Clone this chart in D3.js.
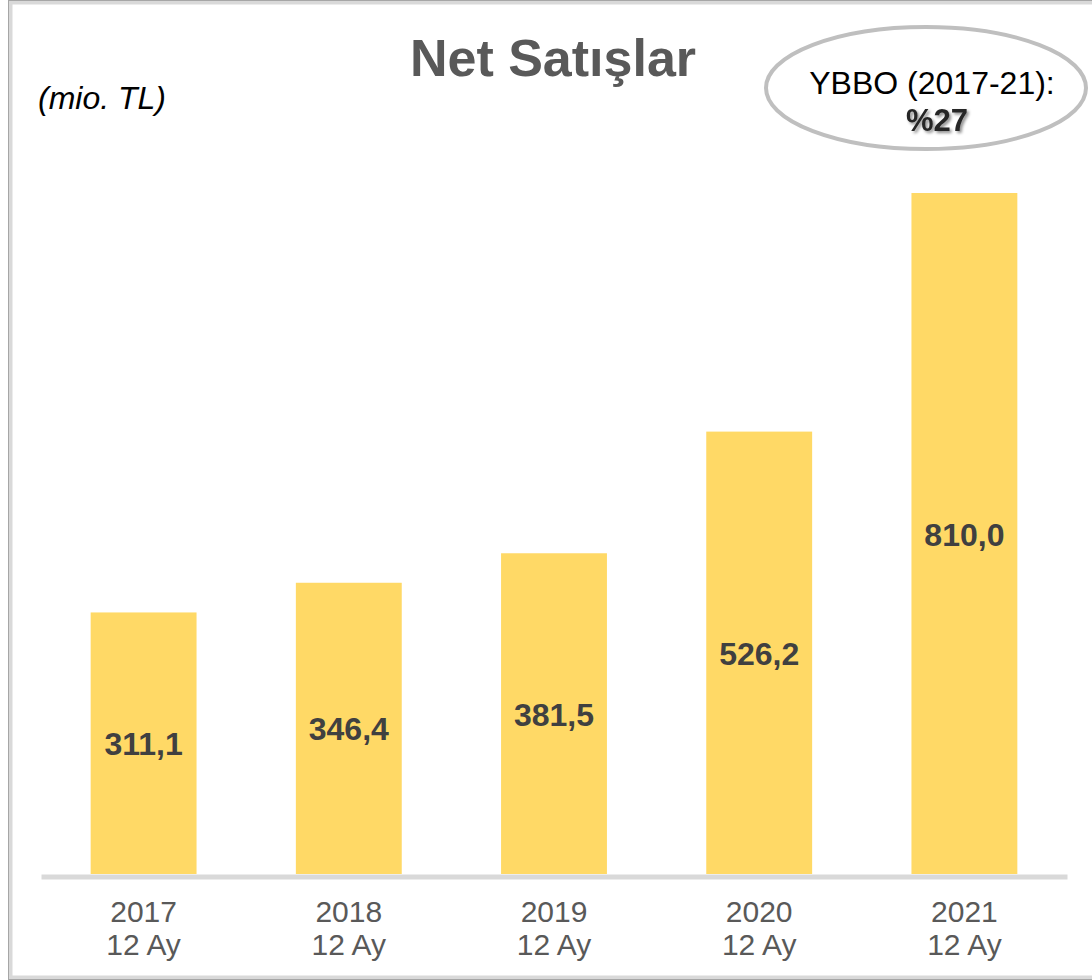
<!DOCTYPE html>
<html lang="tr">
<head>
    <meta charset="UTF-8">
    <title>Net Satışlar</title>
    <script src="https://cdnjs.cloudflare.com/ajax/libs/d3/7.8.5/d3.min.js"></script>
    <style>
        body { margin: 0; background: #fff; }
        svg { display: block; font-family: "Liberation Sans", Arial, sans-serif; }
    </style>
</head>
<body>
<div id="draw-here"></div>
<script>
/* global d3 */

// chart data
var years = ["2017", "2018", "2019", "2020", "2021"];
var periods = ["12 Ay", "12 Ay", "12 Ay", "12 Ay", "12 Ay"];
var sales = [311.1, 346.4, 381.5, 526.2, 810.0];
var salesLabels = ["311,1", "346,4", "381,5", "526,2", "810,0"];

// size of picture
var w = 1092;
var h = 980;

var svg = d3.select("#draw-here")
    .append("svg")
    .attr("width", w)
    .attr("height", h);

// frame round the slide
svg.append("rect")
    .attr("x", 10.5).attr("y", 2.5)
    .attr("width", w).attr("height", 975)
    .attr("fill", "none")
    .attr("stroke", "#d9d9d9")
    .attr("stroke-width", 4);
svg.append("rect")
    .attr("x", 8.5).attr("y", 0.5)
    .attr("width", w).attr("height", 979)
    .attr("fill", "none")
    .attr("stroke", "#a6a6a6")
    .attr("stroke-width", 1);

// scales
var x = d3.scaleBand()
    .domain(years)
    .range([41, 1067])
    .paddingInner(0.484)
    .paddingOuter(0.242);

var y = d3.scaleLinear()
    .domain([0, 810])
    .range([874, 193]);

// bars
svg.selectAll("rect.bar")
    .data(sales)
    .enter()
    .append("rect")
    .attr("class", "bar")
    .attr("x", function(d, i) { return x(years[i]); })
    .attr("y", function(d) { return y(d); })
    .attr("width", x.bandwidth())
    .attr("height", function(d) { return y(0) - y(d); })
    .attr("fill", "#ffd966");

// value labels in the middle of each bar
svg.selectAll("text.value")
    .data(sales)
    .enter()
    .append("text")
    .attr("class", "value")
    .attr("x", function(d, i) { return x(years[i]) + x.bandwidth() / 2; })
    .attr("y", function(d) { return (y(d) + y(0)) / 2 + 12; })
    .attr("text-anchor", "middle")
    .attr("font-size", "32px")
    .attr("font-weight", "bold")
    .attr("fill", "#404040")
    .text(function(d, i) { return salesLabels[i]; });

// category axis (no ticks, thick grey base line)
var xAxis = svg.append("g")
    .attr("transform", "translate(0," + (y(0) + 2.5) + ")")
    .call(d3.axisBottom(x).tickSize(0).tickFormat(""));
xAxis.select(".domain")
    .attr("stroke", "#d9d9d9")
    .attr("stroke-width", 5);

var cats = svg.selectAll("text.cat")
    .data(years)
    .enter()
    .append("text")
    .attr("class", "cat")
    .attr("x", function(d) { return x(d) + x.bandwidth() / 2; })
    .attr("text-anchor", "middle")
    .attr("font-size", "30px")
    .attr("fill", "#595959");
cats.append("tspan")
    .attr("x", function(d) { return x(d) + x.bandwidth() / 2; })
    .attr("y", 922)
    .text(function(d) { return d; });
cats.append("tspan")
    .attr("x", function(d) { return x(d) + x.bandwidth() / 2; })
    .attr("y", 955)
    .text(function(d, i) { return periods[i]; });

// title and unit
svg.append("text")
    .attr("x", 553).attr("y", 76)
    .attr("text-anchor", "middle")
    .attr("font-size", "52px")
    .attr("font-weight", "bold")
    .attr("fill", "#595959")
    .text("Net Satışlar");

svg.append("text")
    .attr("x", 38).attr("y", 109)
    .attr("font-size", "32px")
    .attr("font-style", "italic")
    .attr("fill", "#000")
    .text("(mio. TL)");

// CAGR bubble
var defs = svg.append("defs");
var shadow = defs.append("filter").attr("id", "shadow")
    .attr("x", "-20%").attr("y", "-20%").attr("width", "140%").attr("height", "140%");
shadow.append("feDropShadow")
    .attr("dx", 2).attr("dy", 2)
    .attr("stdDeviation", 1.5)
    .attr("flood-color", "#000")
    .attr("flood-opacity", 0.45);

svg.append("ellipse")
    .attr("cx", 926).attr("cy", 88)
    .attr("rx", 160).attr("ry", 61)
    .attr("fill", "#fff")
    .attr("stroke", "#bfbfbf")
    .attr("stroke-width", 4);

svg.append("text")
    .attr("x", 932).attr("y", 94)
    .attr("text-anchor", "middle")
    .attr("font-size", "32px")
    .attr("fill", "#000")
    .text("YBBO (2017-21):");

svg.append("text")
    .attr("x", 937).attr("y", 131)
    .attr("text-anchor", "middle")
    .attr("font-size", "31px")
    .attr("font-weight", "bold")
    .attr("fill", "#262626")
    .attr("filter", "url(#shadow)")
    .text("%27");
</script>
</body>
</html>
